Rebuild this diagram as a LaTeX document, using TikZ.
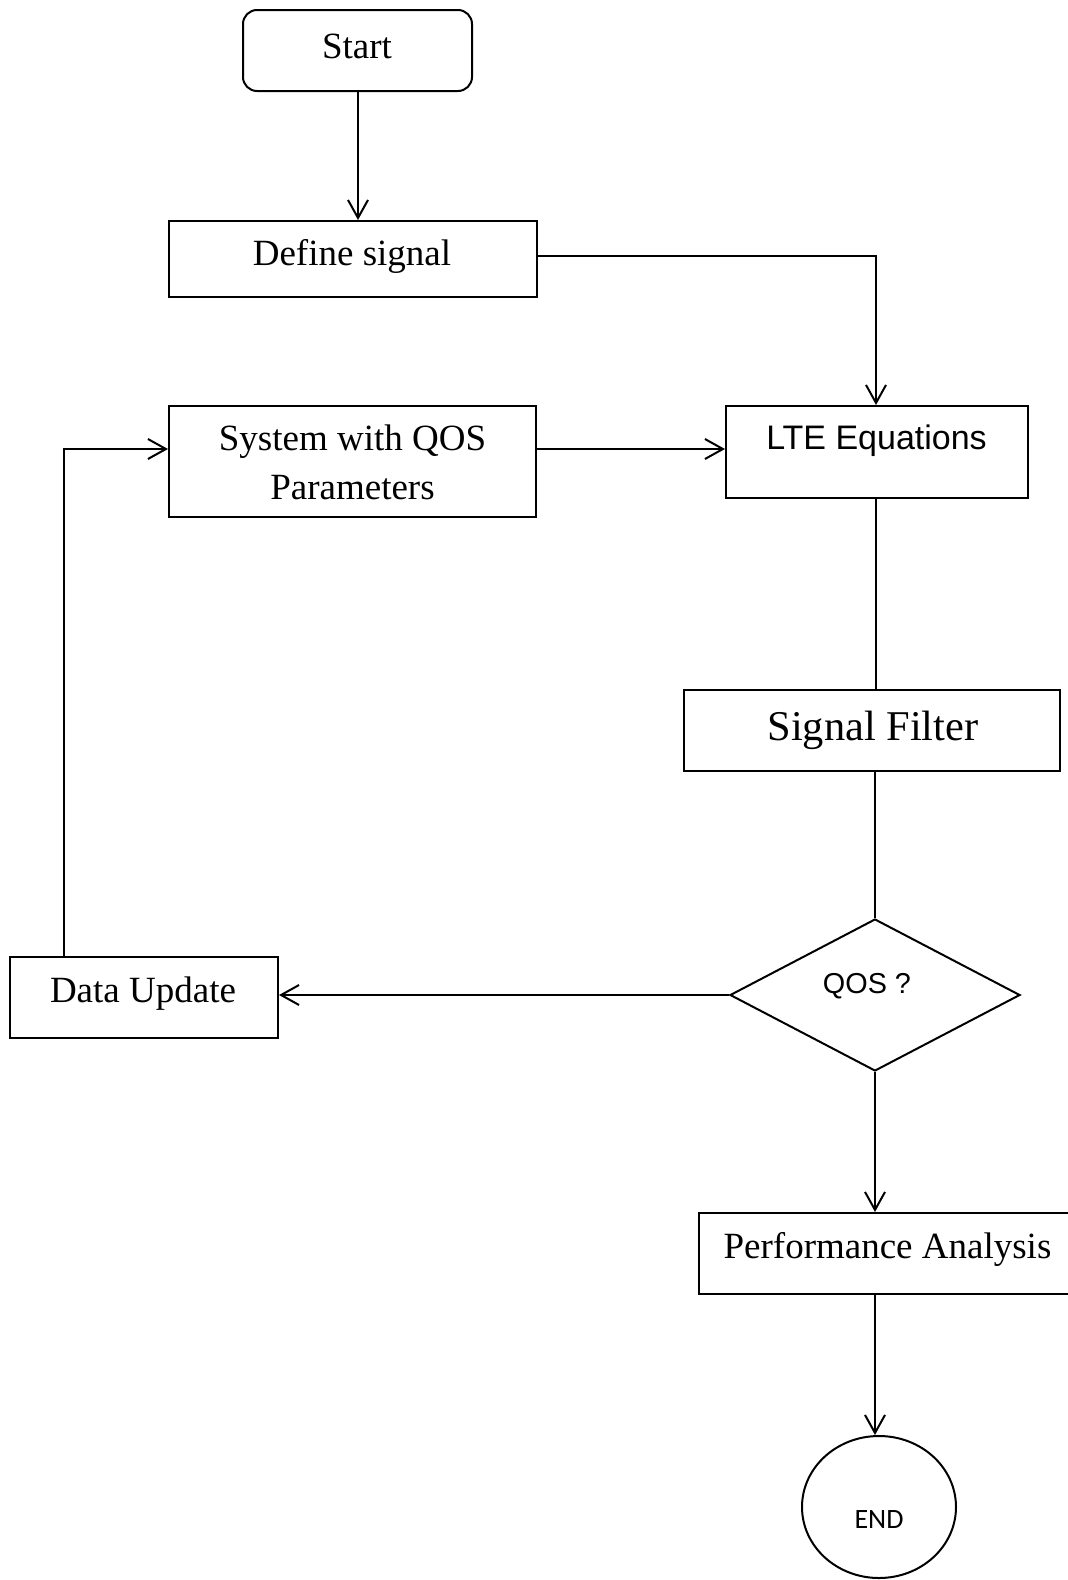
\documentclass[tikz,border=0pt]{standalone}
\usepackage{fontspec}
\setmainfont{Liberation Serif}
\newfontfamily\arialf{Liberation Sans}
\newfontfamily\califont{Carlito}
\usetikzlibrary{arrows.meta,shapes.geometric,calc}
\begin{document}
\begin{tikzpicture}[x=0.5pt,y=-0.5pt,
  box/.style={draw,line width=1pt,inner sep=0pt,rectangle},
  txt/.style={anchor=base,inner sep=0pt,font=\fontsize{18.5}{24.5}\selectfont},
  conn/.style={line width=1pt},
  arr/.style={line width=1pt,-{Straight Barb[length=9pt,width=10pt,line width=1pt]}}]
\clip (0,0) rectangle (1068,1580);
\fill[white] (0,0) rectangle (1068,1580);
% boxes
\node[box,rounded corners=7pt,minimum width=114.5pt,minimum height=40.5pt] (start) at (357.5,50.5) {};
\node[box,minimum width=184pt,minimum height=38pt] (def) at (353,259) {};
\node[box,minimum width=183.5pt,minimum height=55.5pt] (sys) at (352.5,461.5) {};
\node[box,minimum width=151pt,minimum height=46pt] (lte) at (877,452) {};
\node[box,minimum width=188pt,minimum height=40.5pt] (filt) at (872,730.5) {};
\node[draw,line width=1pt,diamond,inner sep=0pt,minimum width=145pt,minimum height=76pt] (dec) at (875,995) {};
\node[box,minimum width=134pt,minimum height=40.5pt] (du) at (144,997.5) {};
\node[box,minimum width=186.5pt,minimum height=40.5pt] (pa) at (885.5,1253.5) {};
\node[draw,line width=1pt,ellipse,inner sep=0pt,minimum width=77pt,minimum height=71pt] (end) at (879,1507) {};
% texts
\node[txt] (startT) at (357,58.5) {Start};
\node[txt] (defT) at (352,265) {Define signal};
\node[txt,anchor=center,align=center] (sysT) at (352.5,462) {System with QOS\\Parameters};
\node[txt,font=\arialf\fontsize{17}{20}\selectfont] (lteT) at (876.5,449) {LTE Equations};
\node[txt,font=\fontsize{21.2}{25}\selectfont] (filtT) at (873,740) {Signal Filter};
\node[txt,font=\arialf\fontsize{14.4}{17}\selectfont] (decT) at (867,993) {QOS ?};
\node[txt] (duT) at (143,1002) {Data Update};
\node[txt] (paT) at (887.5,1258) {Performance Analysis};
\node[txt,font=\califont\fontsize{14}{17}\selectfont] (endT) at (879,1528) {END};
% connectors
\draw[arr] ([xshift=0.25pt]start.south) -- ([xshift=0.25pt]start.south |- def.north);
\draw[arr] ([yshift=1.5pt]def.east) -| ([xshift=-0.5pt]lte.north);
\draw[arr] ([yshift=6.25pt]sys.east) -- ([yshift=6.25pt]sys.east -| lte.west);
\draw[conn] ([xshift=-0.5pt]lte.south) -- ([xshift=-0.5pt]lte.south |- filt.north);
\draw[conn] (dec.north |- filt.south) -- (dec.north);
\draw[arr] (dec.west) -- (dec.west -| du.east);
\coordinate (fb) at ($(du.north west)+(27.25pt,0)$);
\draw[arr] (fb) |- ([yshift=6.25pt]sys.west);
\draw[arr] (dec.south) -- (dec.south |- pa.north);
\draw[arr] (dec.south |- pa.south) -- (dec.south |- end.north);
\end{tikzpicture}
\end{document}
